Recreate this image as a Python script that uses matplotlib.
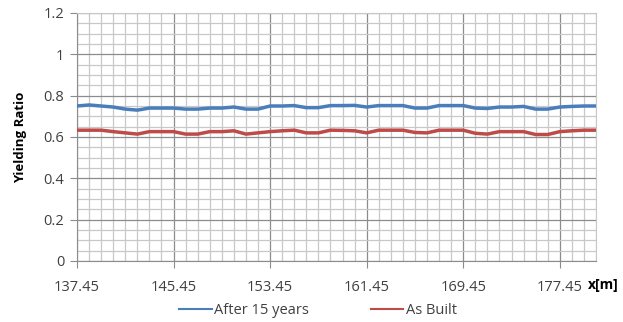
import numpy as np
import matplotlib
matplotlib.use("Agg")
import matplotlib.pyplot as plt
from matplotlib.ticker import MultipleLocator, FixedLocator

plt.rcParams['font.family'] = ['Open Sans', 'DejaVu Sans']

# station x [m], every 1 m
x = 137.45 + np.arange(44)

after_15 = [0.750, 0.755, 0.750, 0.745, 0.735, 0.730, 0.740, 0.740, 0.740, 0.735,
            0.735, 0.740, 0.740, 0.745, 0.735, 0.735, 0.750, 0.750, 0.752, 0.742,
            0.742, 0.752, 0.752, 0.753, 0.745, 0.752, 0.752, 0.752, 0.740, 0.740,
            0.752, 0.752, 0.752, 0.740, 0.738, 0.745, 0.745, 0.748, 0.735, 0.735,
            0.745, 0.748, 0.750, 0.750]
as_built = [0.633, 0.633, 0.633, 0.626, 0.620, 0.614, 0.626, 0.626, 0.626, 0.614,
            0.614, 0.626, 0.626, 0.630, 0.614, 0.620, 0.626, 0.630, 0.633, 0.620,
            0.620, 0.633, 0.632, 0.630, 0.620, 0.633, 0.633, 0.633, 0.622, 0.620,
            0.633, 0.633, 0.633, 0.618, 0.614, 0.626, 0.626, 0.626, 0.612, 0.612,
            0.626, 0.630, 0.633, 0.633]

xticks = [137.45, 145.45, 153.45, 161.45, 169.45, 177.45]

fig = plt.figure(figsize=(6.23, 3.22), dpi=100)
ax = fig.add_axes([77/623, 1-261/322, (596-77)/623, (261-13)/322])

ax.plot(x, after_15, color='#4a7ebb', lw=2.5, label='After 15 years', zorder=3)
ax.plot(x, as_built, color='#be4b48', lw=2.5, label='As Built', zorder=3)

ax.set_xlim(137.45, 180.45)
ax.set_ylim(0, 1.2)
ax.xaxis.set_major_locator(FixedLocator(xticks))
ax.xaxis.set_minor_locator(FixedLocator(list(x)))
ax.yaxis.set_minor_locator(MultipleLocator(0.05))
ax.set_yticks([0, 0.2, 0.4, 0.6, 0.8, 1.0, 1.2])
ax.set_yticklabels(['0', '0.2', '0.4', '0.6', '0.8', '1', '1.2'])
ax.set_xticklabels([f'{t:.2f}' for t in xticks])

ax.grid(which='minor', color='#c8c8c8', lw=0.9)
ax.grid(which='major', color='#8c8c8c', lw=0.9)
ax.set_axisbelow(True)

for s in ['top', 'right']:
    ax.spines[s].set_color('#c8c8c8')
for s in ['left', 'bottom']:
    ax.spines[s].set_color('#8c8c8c')

ax.tick_params(which='minor', length=0)
ax.tick_params(axis='y', which='major', length=5, color='#8c8c8c', labelsize=10.5,
               labelcolor='#404040', pad=4)
ax.tick_params(axis='x', which='major', length=5, color='#8c8c8c', labelsize=10.5,
               labelcolor='#404040', pad=9)

ax.set_ylabel('Yielding Ratio', fontsize=9.5, fontweight='bold', labelpad=12)
fig.text(603/623, 1-285/322, 'x[m]', fontsize=10, fontweight='bold',
         ha='center', va='center')

fig.legend(loc='center', bbox_to_anchor=(318/623, 1-311/322), ncol=2, frameon=False,
           fontsize=10.5, handlelength=2.2, columnspacing=4.2, handletextpad=0.2,
           labelcolor='#404040')
for line in fig.legends[0].get_lines():
    line.set_linewidth(1.5)

fig.savefig('out.png', dpi=100)
